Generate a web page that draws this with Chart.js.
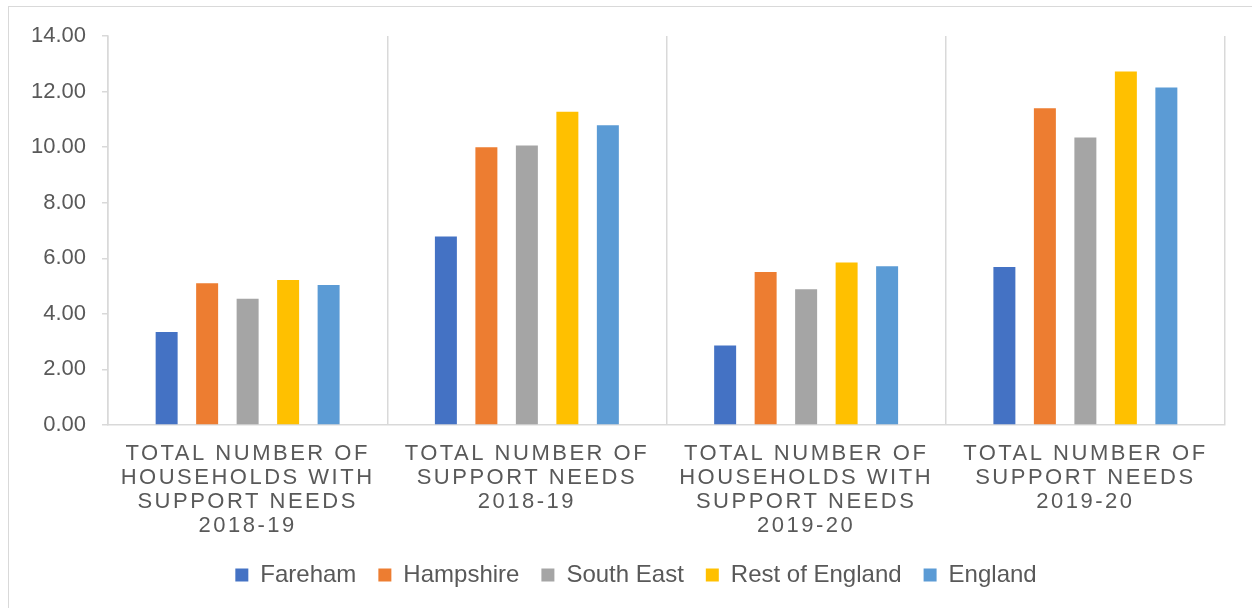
<!DOCTYPE html>
<html>
<head>
<meta charset="utf-8">
<script src="https://cdn.jsdelivr.net/npm/chart.js@4.4.1/dist/chart.umd.min.js"></script>
<style>
    html, body { margin: 0; padding: 0; background: #fff; overflow: hidden; }
    .frame { position: absolute; left: 8px; top: 6px; width: 1300px; height: 700px; border: 1px solid #d9d9d9; }
    .wrap { position: absolute; left: 0; top: 0; width: 1252px; height: 608px; }
</style>
</head>
<body>
<div class="frame"></div>
<div class="wrap"><canvas id="supportChart"></canvas></div>
<script>
// Categories (multi-line axis labels)
const categories = [
    ['TOTAL NUMBER OF', 'HOUSEHOLDS WITH', 'SUPPORT NEEDS', '2018-19'],
    ['TOTAL NUMBER OF', 'SUPPORT NEEDS', '2018-19'],
    ['TOTAL NUMBER OF', 'HOUSEHOLDS WITH', 'SUPPORT NEEDS', '2019-20'],
    ['TOTAL NUMBER OF', 'SUPPORT NEEDS', '2019-20']
];

// Series values
const fareham = [3.35, 6.78, 2.86, 5.69];
const hampshire = [5.10, 10.00, 5.51, 11.40];
const southEast = [4.54, 10.06, 4.89, 10.35];
const restOfEngland = [5.22, 11.27, 5.85, 12.72];
const england = [5.04, 10.79, 5.71, 12.15];

const seriesNames = ['Fareham', 'Hampshire', 'South East', 'Rest of England', 'England'];
const seriesColors = ['#4472C4', '#ED7D31', '#A5A5A5', '#FFC000', '#5B9BD5'];

const textColor = '#595959';
const lineColor = '#d9d9d9';
const FONT = "'Liberation Sans', Arial, sans-serif";

// Excel-style spaced capitals on the category axis, legend nudged right
const excelTweaks = {
    id: 'excelTweaks',
    afterLayout(chart) {
        chart.legend.left += 39;
        const xs = chart.scales.x;
        if (!xs || xs._spaced) return;
        const orig = xs.drawLabels.bind(xs);
        xs.drawLabels = function(area) {
            const ctx = chart.ctx;
            ctx.save();
            ctx.letterSpacing = '2.5px';
            orig(area);
            ctx.restore();
        };
        xs._spaced = true;
    }
};

const allSeries = [fareham, hampshire, southEast, restOfEngland, england];

new Chart(document.getElementById('supportChart'), {
    type: 'bar',
    data: {
        labels: categories,
        datasets: allSeries.map((values, i) => ({
            label: seriesNames[i],
            data: values,
            backgroundColor: seriesColors[i],
            borderWidth: 0,
            categoryPercentage: 0.725,
            barPercentage: 0.543
        }))
    },
    options: {
        responsive: true,
        maintainAspectRatio: false,
        animation: false,
        layout: {
            padding: { left: 8, right: 27, top: 36, bottom: 11 }
        },
        plugins: {
            legend: {
                position: 'bottom',
                labels: {
                    boxWidth: 13,
                    boxHeight: 13,
                    padding: 22,
                    color: textColor,
                    font: { family: FONT, size: 24 }
                }
            },
            tooltip: { enabled: false }
        },
        scales: {
            x: {
                offset: true,
                grid: {
                    display: true,
                    offset: true,
                    color: lineColor,
                    lineWidth: 1.5,
                    drawTicks: false
                },
                border: { display: true, color: lineColor, width: 1.5 },
                ticks: {
                    color: textColor,
                    padding: 17,
                    autoSkip: false,
                    maxRotation: 0,
                    font: { family: FONT, size: 22, lineHeight: '24px' }
                },
                afterFit: s => { s.height = 116; }
            },
            y: {
                min: 0,
                max: 14,
                grid: {
                    display: true,
                    drawOnChartArea: false,
                    drawTicks: true,
                    tickLength: 6,
                    color: lineColor,
                    lineWidth: 1.5
                },
                border: { display: true, color: lineColor, width: 1.5 },
                ticks: {
                    stepSize: 2,
                    color: textColor,
                    padding: 16,
                    font: { family: FONT, size: 22 },
                    callback: v => v.toFixed(2)
                },
                afterFit: s => { s.width = 100; }
            }
        }
    },
    plugins: [excelTweaks]
});
</script>
</body>
</html>
